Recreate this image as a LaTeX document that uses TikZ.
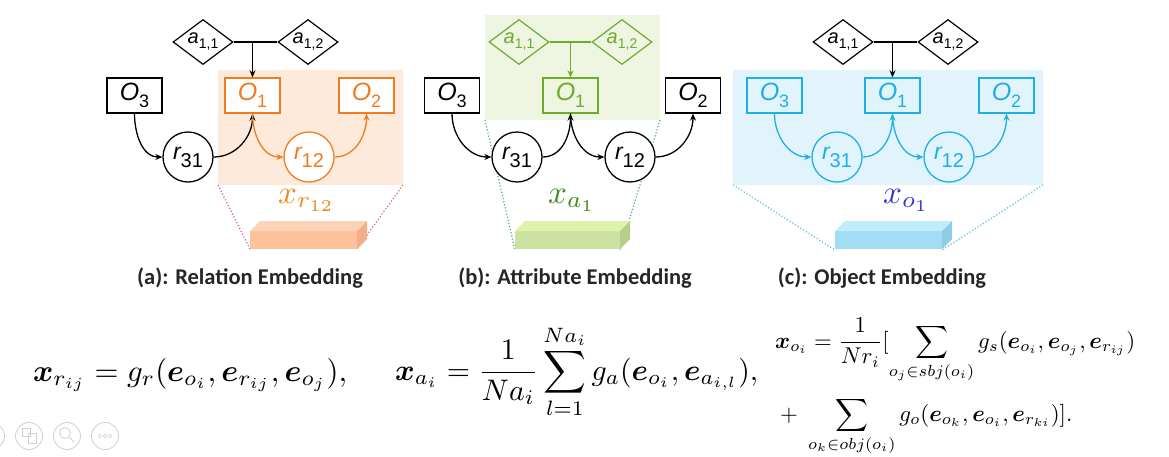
\documentclass[tikz,border=0pt]{standalone}
\usepackage{fontspec}
\usepackage{amsmath,bm}
\usepackage{graphicx}
\usetikzlibrary{shapes.geometric,arrows.meta}
\newfontfamily\nodefont{Liberation Sans}
\newfontfamily\capfont{Carlito}
\definecolor{orangeC}{HTML}{F37A1F}
\definecolor{orangeBG}{HTML}{FDEADB}
\definecolor{greenC}{HTML}{6EAA2E}
\definecolor{greenBG}{HTML}{EEF5E1}
\definecolor{blueC}{HTML}{1FAFE5}
\definecolor{blueBG}{HTML}{E1F4FB}
\definecolor{xorange}{HTML}{EE8A22}
\definecolor{xgreen}{HTML}{3E8C1C}
\definecolor{xblue}{HTML}{3434CC}
\definecolor{dotA}{HTML}{E4607A}
\definecolor{dotB}{HTML}{4FAE8A}
\definecolor{dotC}{HTML}{5CC0E6}
\definecolor{capgray}{HTML}{262626}
\definecolor{uigray}{HTML}{D0D0D0}
\definecolor{barAf}{RGB}{253,194,156}
\definecolor{barAt}{RGB}{253,211,181}
\definecolor{barAs}{RGB}{242,174,135}
\definecolor{barBf}{RGB}{205,226,160}
\definecolor{barBt}{RGB}{223,242,172}
\definecolor{barBs}{RGB}{181,207,136}
\definecolor{barCf}{RGB}{163,221,243}
\definecolor{barCt}{RGB}{193,236,250}
\definecolor{barCs}{RGB}{142,205,229}
\newsavebox\boxeqA
\newsavebox\boxeqB
\newsavebox\boxeqC
\newsavebox\boxeqD
% labels
\newcommand\olab[1]{{\nodefont\fontsize{25}{25}\selectfont\itshape O}\raisebox{-7pt}{\nodefont\fontsize{18}{18}\selectfont #1}}
\newcommand\rlab[1]{{\nodefont\fontsize{23}{23}\selectfont\itshape r}\raisebox{-8pt}{\nodefont\fontsize{20}{20}\selectfont #1}}
\newcommand\alab[1]{{\nodefont\fontsize{20}{20}\selectfont\itshape a}\raisebox{-5pt}{\nodefont\fontsize{14}{14}\selectfont #1}}
% 3D embedding bar: x1 x2 front top side
\newcommand\embbar[5]{%
  \fill[#3] (#1,-231) rectangle (#2,-249);
  \fill[#4] (#1,-231) -- (#1+10,-221) -- (#2+10,-221) -- (#2,-231) -- cycle;
  \fill[#5] (#2,-231) -- (#2+10,-221) -- (#2+10,-239) -- (#2,-249) -- cycle;}
\begin{document}
\begin{tikzpicture}[x=1pt,y=1pt,
  obox/.style={draw, line width=1.3pt, minimum width=55pt, minimum height=35pt, inner sep=0pt, fill=white},
  rcirc/.style={circle, draw, line width=1.3pt, minimum size=50pt, inner sep=0pt, fill=white},
  adiam/.style={diamond, draw, line width=1.2pt, minimum width=60pt, minimum height=45pt, inner sep=0pt, aspect=1.33, fill=white},
  conn/.style={line width=1.3pt, -{Stealth[length=7pt,width=6pt]}},
  plain/.style={line width=1.3pt},
  dotl/.style={dotted, line width=1.2pt},
  captext/.style={font=\capfont\bfseries\fontsize{22.5}{26}\selectfont, text=capgray},
  xlab/.style={anchor=base west, inner sep=0pt},
  eqn/.style={anchor=base west, inner sep=0pt}]
\useasboundingbox (0,0) rectangle (1169,-456);
\fill[white] (0,0) rectangle (1169,-456);

% ---------- backgrounds ----------
\fill[orangeBG] (218,-70) rectangle (403,-185);
\fill[greenBG] (485,-15) rectangle (660,-120);
\fill[blueBG] (733,-70) rectangle (1043,-185);

% ---------- dotted projection lines ----------
\draw[dotl, dotA] (218,-185) -- (250,-249);
\draw[dotl, dotA] (403,-185) -- (357,-249);
\draw[dotl, dotB] (485,-120) -- (515,-250);
\draw[dotl, dotB] (660,-120) -- (620,-250);
\draw[dotl, dotC] (733,-185) -- (835,-250);
\draw[dotl, dotC] (1043,-185) -- (942,-250);

% ---------- embedding bars ----------
\embbar{250}{357}{barAf}{barAt}{barAs}
\embbar{515}{620}{barBf}{barBt}{barBs}
\embbar{835}{942}{barCf}{barCt}{barCs}

% ================= panel (a) =================
\node[adiam] (a11a) at (203,-42) {\alab{1,1}};
\node[adiam] (a12a) at (308,-42) {\alab{1,2}};
\node[obox] (o3a) at (134.5,-95.5) {\olab{3}};
\node[obox, draw=orangeC, text=orangeC] (o1a) at (252.5,-95.5) {\olab{1}};
\node[obox, draw=orangeC, text=orangeC] (o2a) at (366.5,-95.5) {\olab{2}};
\node[rcirc] (r31a) at (188,-157) {\rlab{31}};
\node[rcirc, draw=orangeC, text=orangeC] (r12a) at (309,-157) {\rlab{12}};
\coordinate (ja) at (o1a.north |- a11a.east);
\draw[plain] (a11a.east) -- (a12a.west);
\draw[conn] (ja) -- (o1a.north);
\draw[conn] (o3a.south) to[out=-90,in=180] (r31a.west);
\draw[conn] (r31a.east) to[out=0,in=-90] (o1a.south);
\draw[conn, orangeC] (o1a.south) to[out=-90,in=180] (r12a.west);
\draw[conn, orangeC] (r12a.east) to[out=0,in=-90] (o2a.south);
\node[xlab, text=xorange] (xa) at (278,-203) {\scalebox{3.3}{$x_{r_{12}}$}};
\node[captext] (capa) at (250,-278) {(a): Relation Embedding};

% ================= panel (b) =================
\node[adiam, draw=greenC, text=greenC, fill=greenBG] (a11b) at (519,-42) {\alab{1,1}};
\node[adiam, draw=greenC, text=greenC, fill=greenBG] (a12b) at (622,-42) {\alab{1,2}};
\node[obox] (o3b) at (452,-95.5) {\olab{3}};
\node[obox, draw=greenC, text=greenC, fill=greenBG] (o1b) at (570.5,-95.5) {\olab{1}};
\node[obox] (o2b) at (693,-95.5) {\olab{2}};
\node[rcirc] (r31b) at (517,-157) {\rlab{31}};
\node[rcirc] (r12b) at (630,-157) {\rlab{12}};
\coordinate (jb) at (o1b.north |- a11b.east);
\draw[plain, greenC] (a11b.east) -- (a12b.west);
\draw[conn, greenC] (jb) -- (o1b.north);
\draw[conn] (o3b.south) to[out=-90,in=180] (r31b.west);
\draw[conn] (r31b.east) to[out=0,in=-90] (o1b.south);
\draw[conn] (o1b.south) to[out=-90,in=180] (r12b.west);
\draw[conn] (r12b.east) to[out=0,in=-90] (o2b.south);
\node[xlab, text=xgreen] (xb) at (548,-203) {\scalebox{3.3}{$x_{a_1}$}};
\node[captext] (capb) at (575,-278) {(b): Attribute Embedding};

% ================= panel (c) =================
\node[adiam] (a11c) at (843,-42) {\alab{1,1}};
\node[adiam] (a12c) at (948,-42) {\alab{1,2}};
\node[obox, draw=blueC, text=blueC, fill=blueBG] (o3c) at (774.5,-95.5) {\olab{3}};
\node[obox, draw=blueC, text=blueC, fill=blueBG] (o1c) at (892.5,-95.5) {\olab{1}};
\node[obox, draw=blueC, text=blueC, fill=blueBG] (o2c) at (1006.5,-95.5) {\olab{2}};
\node[rcirc, draw=blueC, text=blueC, fill=blueBG] (r31c) at (837,-157) {\rlab{31}};
\node[rcirc, draw=blueC, text=blueC, fill=blueBG] (r12c) at (949,-157) {\rlab{12}};
\coordinate (jc) at (o1c.north |- a11c.east);
\draw[plain] (a11c.east) -- (a12c.west);
\draw[conn] (jc) -- (o1c.north);
\draw[conn, blueC] (o3c.south) to[out=-90,in=180] (r31c.west);
\draw[conn, blueC] (r31c.east) to[out=0,in=-90] (o1c.south);
\draw[conn, blueC] (o1c.south) to[out=-90,in=180] (r12c.west);
\draw[conn, blueC] (r12c.east) to[out=0,in=-90] (o2c.south);
\node[xlab, text=xblue] (xc) at (883,-203) {\scalebox{3.3}{$x_{o_1}$}};
\node[captext] (capc) at (882,-278) {(c): Object Embedding};

% ================= equations =================
\sbox\boxeqA{$\bm{x}_{r_{ij}} = g_r(\bm{e}_{o_i}, \bm{e}_{r_{ij}}, \bm{e}_{o_j}),$}
\sbox\boxeqB{$\displaystyle \bm{x}_{a_i} = \frac{1}{Na_i}\sum_{l=1}^{Na_i} g_a(\bm{e}_{o_i}, \bm{e}_{a_{i,l}}),$}
\sbox\boxeqC{$\displaystyle \bm{x}_{o_i} = \frac{1}{Nr_i}[\sum_{o_j\in sbj(o_i)} g_s(\bm{e}_{o_i}, \bm{e}_{o_j}, \bm{e}_{r_{ij}})$}
\sbox\boxeqD{$\displaystyle +\;\sum_{o_k\in obj(o_i)} g_o(\bm{e}_{o_k}, \bm{e}_{o_i}, \bm{e}_{r_{ki}})].$}
\pgfmathsetmacro\scA{314/\the\wd\boxeqA}
\pgfmathsetmacro\scB{363/\the\wd\boxeqB}
\pgfmathsetmacro\scC{360/\the\wd\boxeqC}
\node[eqn] (eq1) at (33,-381) {\scalebox{\scA}{\usebox\boxeqA}};
\node[eqn] (eq2) at (395,-380) {\scalebox{\scB}{\usebox\boxeqB}};
\node[eqn] (eq3a) at (775,-348) {\scalebox{\scC}{\usebox\boxeqC}};
\node[eqn] (eq3b) at (780,-421) {\scalebox{\scC}{\usebox\boxeqD}};

% ================= UI icons (screenshot overlay) =================
\foreach \cx/\nm in {-9/ui0, 29/ui1, 67/ui2, 105/ui3}
  \node[circle, draw=uigray, line width=0.8pt, minimum size=27pt, inner sep=0pt] (\nm) at (\cx,-436) {};
\draw[uigray, line width=0.7pt] (22,-428) rectangle (30,-436) (28,-433) rectangle (36,-443);
\draw[uigray, line width=0.8pt] (65,-433) circle (5.5pt) (69,-437) -- (74,-442);
\foreach \dx in {-5,0,5} \draw[uigray, line width=0.5pt] (105+\dx,-436) circle (1.7pt);
\end{tikzpicture}
\end{document}
